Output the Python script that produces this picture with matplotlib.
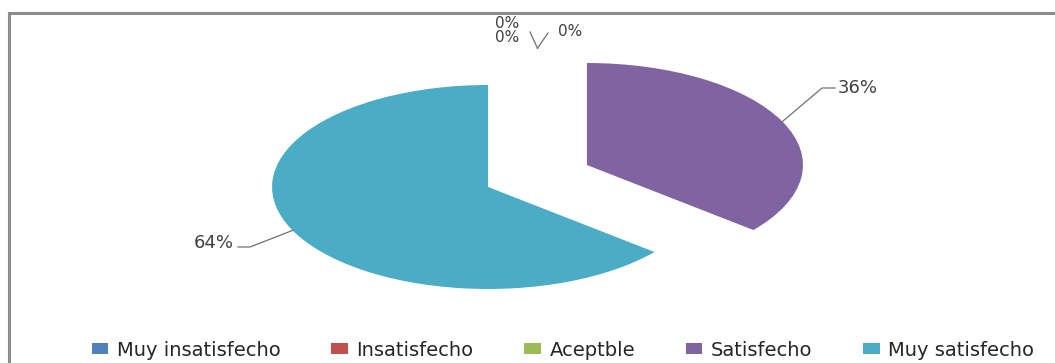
import numpy as np
import matplotlib
matplotlib.use("Agg")
import matplotlib.pyplot as plt
from matplotlib.lines import Line2D
from matplotlib.patches import Patch

# survey answers (share of respondents, %)
categories = ["Muy insatisfecho", "Insatisfecho", "Aceptble", "Satisfecho", "Muy satisfecho"]
values = [0, 0, 0, 36, 64]
colors = ["#4F81BD", "#C0504D", "#9BBB59", "#8064A2", "#4BACC6"]

W, H = 1055, 363
RX, RY = 216.0, 102.0   # pie is drawn squashed: horizontal / vertical radius in px
EXPLODE = 0.253


def px(x):
    return x / RX


def py(y):
    return (H - y) / RY


fig = plt.figure(figsize=(W / 100, H / 100), dpi=100)
fig.patch.set_facecolor("white")
ax = fig.add_axes([0, 0, 1, 1])

cx, cy = px(537.5), py(176)
wedges, _ = ax.pie(values, colors=colors, startangle=90, counterclock=False,
                   radius=1.0, center=(cx, cy), explode=[EXPLODE] * len(values),
                   wedgeprops=dict(linewidth=0))
ax.set_xlim(0, W / RX)
ax.set_ylim(0, H / RY)
ax.set_aspect("auto")
ax.axis("off")

# chart frame (only top and left edges fall inside the image)
fig.add_artist(Line2D([9 / W, 9 / W], [0, 1 - 13 / H], color="#8c8c8c", lw=2.2))
fig.add_artist(Line2D([9 / W, 1], [1 - 13 / H, 1 - 13 / H], color="#8c8c8c", lw=2.2))

line_kw = dict(color="#707070", lw=0.9)

# outside labels with leader lines
total = float(sum(values))
# (text x, text y, elbow x, elbow y, ha, size) in px for each slice
label_pos = [
    (507, 24, None, None, "center", 11),
    (507, 38, 530, 32, "center", 11),
    (570, 31, 548, 33, "center", 11),
    (838, 88, 822, 88, "left", 13),
    (234, 243, 250, 247, "right", 13),
]
for w, v, (tx, ty, ex, ey, ha, fs) in zip(wedges, values, label_pos):
    mid = np.deg2rad((w.theta1 + w.theta2) / 2)
    ox, oy = w.center
    ax_x = ox + np.cos(mid)
    ax_y = oy + np.sin(mid)
    txt = f"{v / total * 100:.0f}%"
    ax.text(px(tx), py(ty), txt, ha=ha, va="center", fontsize=fs,
            color="#404040", family="DejaVu Sans")
    if ex is None:
        continue
    if ha == "left":
        xs = [ax_x, px(ex), px(tx - 3)]
        ys = [ax_y, py(ey), py(ey)]
    elif ha == "right":
        xs = [ax_x, px(ex), px(tx + 4)]
        ys = [ax_y, py(ey), py(ey)]
    else:
        xs = [ax_x, px(ex)]
        ys = [ax_y, py(ey)]
    ax.plot(xs, ys, **line_kw)

handles = [Patch(facecolor=c, edgecolor="none") for c in colors]
fig.legend(handles, categories, loc="center", bbox_to_anchor=(563 / W, 1 - 350 / H),
           ncol=5, frameon=False, handlelength=0.85, handleheight=0.5,
           handletextpad=0.45, columnspacing=2.6,
           prop=dict(family="DejaVu Sans", size=14), labelcolor="#262626")

fig.savefig("out.png", dpi=100)
